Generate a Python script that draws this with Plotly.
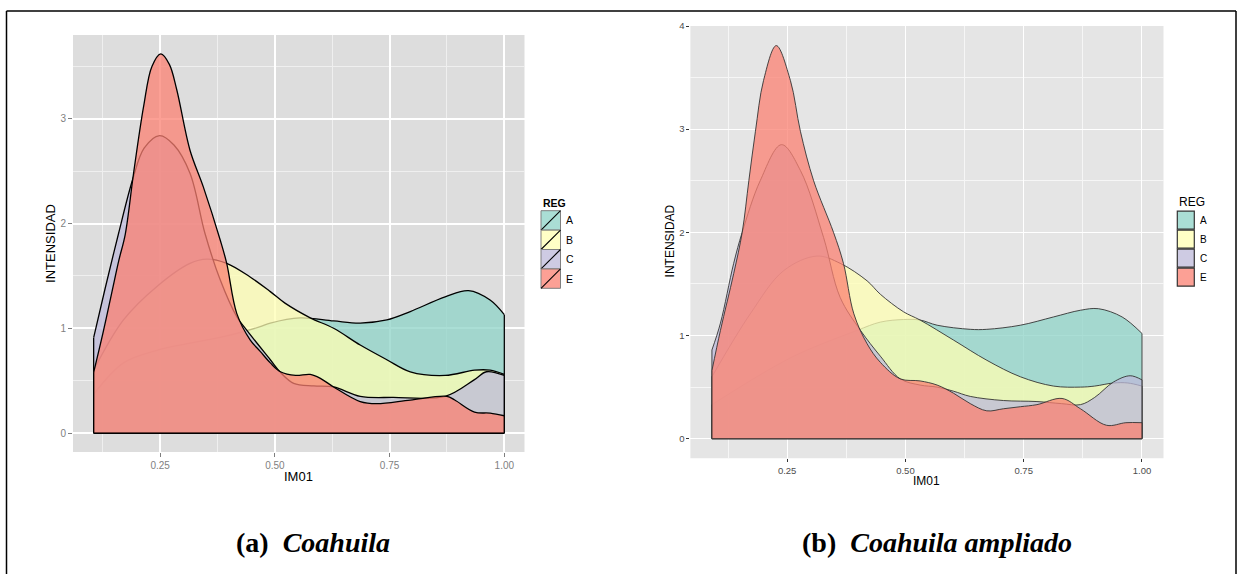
import plotly.graph_objects as go

W, H = 1238, 574

# ---------------- data ----------------
groups = ["A", "B", "C", "E"]
fill_rgb = {"A": (141, 211, 199), "B": (255, 255, 179), "C": (190, 186, 218), "E": (251, 128, 114)}

# panel (a) Coahuila
A_L_x = [0.105, 0.17, 0.243, 0.388, 0.468, 0.49, 0.555, 0.628, 0.686, 0.744, 0.795, 0.871, 0.922, 0.969, 1.0]
A_L_y = [0.37, 0.67, 0.79, 0.92, 1.015, 1.05, 1.10, 1.07, 1.05, 1.08, 1.16, 1.30, 1.36, 1.27, 1.13]
B_L_x = [0.105, 0.17, 0.243, 0.315, 0.352, 0.395, 0.446, 0.49, 0.522, 0.577, 0.628, 0.686, 0.744, 0.795, 0.871, 0.935, 0.969, 1.0]
B_L_y = [0.60, 1.08, 1.40, 1.62, 1.66, 1.62, 1.49, 1.35, 1.24, 1.10, 1.00, 0.84, 0.70, 0.585, 0.55, 0.60, 0.60, 0.56]
C_L_x = [0.105, 0.13, 0.159, 0.19, 0.215, 0.2485, 0.28, 0.315, 0.348, 0.381, 0.417, 0.439, 0.49, 0.512, 0.541, 0.585, 0.628, 0.686, 0.758, 0.871, 0.935, 0.961, 1.0]
C_L_y = [0.91, 1.38, 1.90, 2.42, 2.72, 2.84, 2.75, 2.48, 1.90, 1.46, 1.11, 0.98, 0.70, 0.58, 0.475, 0.45, 0.44, 0.35, 0.34, 0.35, 0.51, 0.585, 0.55]
E_L_x = [0.105, 0.125, 0.145, 0.16, 0.174, 0.192, 0.214, 0.232, 0.2515, 0.27, 0.286, 0.315, 0.344, 0.381, 0.395, 0.417, 0.446, 0.468, 0.49, 0.512, 0.545, 0.577, 0.60, 0.628, 0.686, 0.722, 0.795, 0.875, 0.892, 0.935, 0.969, 1.0]
E_L_y = [0.58, 0.95, 1.35, 1.65, 1.90, 2.48, 3.12, 3.50, 3.62, 3.52, 3.28, 2.70, 2.35, 1.84, 1.62, 1.14, 0.89, 0.78, 0.67, 0.585, 0.55, 0.56, 0.52, 0.44, 0.30, 0.28, 0.315, 0.35, 0.315, 0.20, 0.19, 0.165]

# panel (b) Coahuila ampliado
A_R_x = [0.091, 0.208, 0.278, 0.398, 0.447, 0.496, 0.531, 0.567, 0.637, 0.672, 0.743, 0.813, 0.870, 0.908, 0.958, 1.0]
A_R_y = [0.33, 0.66, 0.83, 1.05, 1.13, 1.155, 1.15, 1.10, 1.06, 1.06, 1.10, 1.18, 1.245, 1.26, 1.18, 1.02]
B_R_x = [0.091, 0.172, 0.243, 0.313, 0.362, 0.419, 0.447, 0.496, 0.531, 0.602, 0.672, 0.743, 0.813, 0.870, 0.90, 0.94, 0.97, 1.0]
B_R_y = [0.60, 1.21, 1.63, 1.77, 1.70, 1.53, 1.40, 1.23, 1.15, 0.955, 0.76, 0.60, 0.51, 0.50, 0.51, 0.54, 0.54, 0.51]
C_R_x = [0.091, 0.109, 0.137, 0.155, 0.193, 0.238, 0.278, 0.327, 0.362, 0.405, 0.447, 0.489, 0.531, 0.567, 0.602, 0.637, 0.707, 0.778, 0.83, 0.87, 0.90, 0.94, 0.975, 1.0]
C_R_y = [0.86, 1.12, 1.70, 2.00, 2.50, 2.85, 2.60, 1.95, 1.37, 1.05, 0.80, 0.58, 0.52, 0.50, 0.46, 0.41, 0.37, 0.36, 0.34, 0.33, 0.40, 0.55, 0.61, 0.57]
E_R_x = [0.091, 0.109, 0.137, 0.155, 0.169, 0.183, 0.200, 0.227, 0.257, 0.278, 0.306, 0.348, 0.369, 0.391, 0.419, 0.447, 0.489, 0.531, 0.567, 0.602, 0.637, 0.672, 0.707, 0.743, 0.778, 0.831, 0.870, 0.925, 0.966, 1.0]
E_R_y = [0.66, 1.05, 1.60, 2.00, 2.50, 2.98, 3.47, 3.81, 3.47, 2.98, 2.50, 2.00, 1.70, 1.21, 0.92, 0.74, 0.58, 0.56, 0.52, 0.44, 0.34, 0.27, 0.29, 0.31, 0.33, 0.39, 0.29, 0.13, 0.155, 0.155]

x_tickvals = [0.25, 0.50, 0.75, 1.00]
x_ticktext = ["0.25", "0.50", "0.75", "1.00"]
y_tickvals_L = [0, 1, 2, 3]
y_tickvals_R = [0, 1, 2, 3, 4]
x_title = "IM01"
y_title = "INTENSIDAD"
legend_title = "REG"
captions = [("(a)", "Coahuila"), ("(b)", "Coahuila ampliado")]

ALPHA = 0.75

panels = [
    {"data": {"A": (A_L_x, A_L_y), "B": (B_L_x, B_L_y), "C": (C_L_x, C_L_y), "E": (E_L_x, E_L_y)},
     "xa": "x", "ya": "y", "line": "#000000", "lw": 1.3},
    {"data": {"A": (A_R_x, A_R_y), "B": (B_R_x, B_R_y), "C": (C_R_x, C_R_y), "E": (E_R_x, E_R_y)},
     "xa": "x2", "ya": "y2", "line": "#333333", "lw": 0.9},
]


def P(px):
    return px / W


def Q(py):
    return 1 - py / H


fig = go.Figure()
for pan in panels:
    for g in groups:
        xs, ys = pan["data"][g]
        r, gg, b = fill_rgb[g]
        fc = f"rgba({r},{gg},{b},{ALPHA})"
        fig.add_trace(go.Scatter(
            x=xs, y=ys, mode="lines", fill="tozeroy", fillcolor=fc,
            line=dict(color=pan["line"], width=pan["lw"], shape="spline", smoothing=1.0),
            xaxis=pan["xa"], yaxis=pan["ya"], showlegend=False, hoverinfo="skip"))
        # straight polygon edges (vertical ends + baseline)
        fig.add_trace(go.Scatter(
            x=[xs[0], xs[0], None, xs[-1], xs[-1], None, xs[0], xs[-1]],
            y=[ys[0], 0, None, ys[-1], 0, None, 0, 0],
            mode="lines", line=dict(color=pan["line"], width=pan["lw"]),
            xaxis=pan["xa"], yaxis=pan["ya"], showlegend=False, hoverinfo="skip"))

# panel geometry (pixels)
L = dict(x0=73, x1=524.5, y0=35, y1=452)
R = dict(x0=690.4, x1=1163.5, y0=26, y1=458.3)

tickfont_L = dict(family="Liberation Sans, Arial, sans-serif", size=10, color="#7F7F7F")
tickfont_R = dict(family="Liberation Sans, Arial, sans-serif", size=9.5, color="#4D4D4D")

fig.update_layout(
    width=W, height=H, margin=dict(l=0, r=0, t=0, b=0, pad=0, autoexpand=False),
    paper_bgcolor="white", plot_bgcolor="rgba(0,0,0,0)",
    showlegend=False,
    xaxis=dict(domain=[P(L["x0"]), P(L["x1"])], anchor="y", range=[0.060, 1.044],
               tickmode="array", tickvals=x_tickvals, ticktext=x_ticktext,
               ticks="outside", ticklen=4, tickcolor="#7F7F7F", tickwidth=1,
               tickfont=tickfont_L, showgrid=True, gridcolor="white", gridwidth=1.6,
               zeroline=False, showline=False,
               minor=dict(tickmode="linear", tick0=0.125, dtick=0.25, showgrid=True,
                          gridcolor="#EFEFEF", gridwidth=0.8, ticks="")),
    yaxis=dict(domain=[Q(L["y1"]), Q(L["y0"])], anchor="x", range=[-0.181, 3.80],
               tickmode="array", tickvals=y_tickvals_L, ticktext=[str(v) for v in y_tickvals_L],
               ticks="outside", ticklen=4, tickcolor="#7F7F7F", tickwidth=1,
               tickfont=tickfont_L, showgrid=True, gridcolor="white", gridwidth=1.6,
               zeroline=False, showline=False,
               minor=dict(tickmode="linear", tick0=0.5, dtick=1, showgrid=True,
                          gridcolor="#EFEFEF", gridwidth=0.8, ticks="")),
    xaxis2=dict(domain=[P(R["x0"]), P(R["x1"])], anchor="y2", range=[0.0455, 1.0455],
                tickmode="array", tickvals=x_tickvals, ticktext=x_ticktext,
                ticks="outside", ticklen=3, tickcolor="#333333", tickwidth=1,
                tickfont=tickfont_R, showgrid=True, gridcolor="white", gridwidth=1.3,
                zeroline=False, showline=False,
                minor=dict(tickmode="linear", tick0=0.125, dtick=0.25, showgrid=True,
                           gridcolor="#F6F6F6", gridwidth=0.7, ticks="")),
    yaxis2=dict(domain=[Q(R["y1"]), Q(R["y0"])], anchor="x2", range=[-0.19, 4.0],
                tickmode="array", tickvals=y_tickvals_R, ticktext=[str(v) for v in y_tickvals_R],
                ticks="outside", ticklen=3, tickcolor="#333333", tickwidth=1,
                tickfont=tickfont_R, showgrid=True, gridcolor="white", gridwidth=1.3,
                zeroline=False, showline=False,
                minor=dict(tickmode="linear", tick0=0.5, dtick=1, showgrid=True,
                           gridcolor="#F6F6F6", gridwidth=0.7, ticks="")),
)

shapes = []
# panel backgrounds (below grid)
shapes.append(dict(type="rect", xref="x domain", yref="y domain", x0=0, x1=1, y0=0, y1=1,
                   fillcolor="#DDDDDD", line=dict(width=0), layer="below"))
shapes.append(dict(type="rect", xref="x2 domain", yref="y2 domain", x0=0, x1=1, y0=0, y1=1,
                   fillcolor="#E5E5E5", line=dict(width=0), layer="below"))
# page frame
frame = dict(color="black", width=1.5)
shapes.append(dict(type="line", xref="paper", yref="paper", x0=P(6.5), x1=P(1236), y0=Q(11), y1=Q(11), line=frame))
shapes.append(dict(type="line", xref="paper", yref="paper", x0=P(6.5), x1=P(6.5), y0=Q(11), y1=Q(574), line=frame))
shapes.append(dict(type="line", xref="paper", yref="paper", x0=P(1236), x1=P(1236), y0=Q(11), y1=Q(574), line=frame))

annotations = []
font_sans = "Liberation Sans, Arial, sans-serif"

# axis titles
annotations += [
    dict(text=x_title, x=P(298.4), y=Q(476.7), xref="paper", yref="paper", showarrow=False,
         xanchor="center", yanchor="middle", font=dict(family=font_sans, size=13, color="black")),
    dict(text=y_title, x=P(50.6), y=Q(243.3), xref="paper", yref="paper", showarrow=False, textangle=-90,
         xanchor="center", yanchor="middle", font=dict(family=font_sans, size=13, color="black")),
    dict(text=x_title, x=P(926.7), y=Q(480.7), xref="paper", yref="paper", showarrow=False,
         xanchor="center", yanchor="middle", font=dict(family=font_sans, size=12, color="black")),
    dict(text=y_title, x=P(670.2), y=Q(241.2), xref="paper", yref="paper", showarrow=False, textangle=-90,
         xanchor="center", yanchor="middle", font=dict(family=font_sans, size=12, color="black")),
]

# legends
legL = dict(x0=541, x1=560.5, top=210.7, h=19.4, tx=563.5, ttl_y=203.3)
legR = dict(x0=1177.3, x1=1194.3, top=210.7, h=19.0, tx=1198, ttl_y=201.7)

annotations.append(dict(text="<b>" + legend_title + "</b>", x=P(540.5), y=Q(legL["ttl_y"]), xref="paper", yref="paper",
                        showarrow=False, xanchor="left", yanchor="middle",
                        font=dict(family=font_sans, size=10.5, color="black")))
annotations.append(dict(text=legend_title, x=P(1176.5), y=Q(legR["ttl_y"]), xref="paper", yref="paper",
                        showarrow=False, xanchor="left", yanchor="middle",
                        font=dict(family=font_sans, size=12, color="black")))

for i, g in enumerate(groups):
    r, gg, b = fill_rgb[g]
    fc = f"rgba({r},{gg},{b},0.75)"
    # left key (with diagonal)
    t = legL["top"] + i * legL["h"]
    bt = t + legL["h"]
    shapes.append(dict(type="rect", xref="paper", yref="paper", x0=P(legL["x0"]), x1=P(legL["x1"]),
                       y0=Q(bt), y1=Q(t), fillcolor=fc, line=dict(color="#7F7F7F", width=1)))
    shapes.append(dict(type="line", xref="paper", yref="paper", x0=P(legL["x0"]), x1=P(legL["x1"]),
                       y0=Q(bt), y1=Q(t), line=dict(color="black", width=1.1)))
    annotations.append(dict(text=g, x=P(legL["tx"]), y=Q((t + bt) / 2), xref="paper", yref="paper",
                            showarrow=False, xanchor="left", yanchor="middle",
                            font=dict(family=font_sans, size=10.5, color="black")))
    # right key
    t = legR["top"] + i * legR["h"]
    bt = t + legR["h"]
    shapes.append(dict(type="rect", xref="paper", yref="paper", x0=P(legR["x0"]), x1=P(legR["x1"]),
                       y0=Q(bt - 0.5), y1=Q(t + 0.5), fillcolor=fc, line=dict(color="#333333", width=1.2)))
    annotations.append(dict(text=g, x=P(legR["tx"]), y=Q((t + bt) / 2), xref="paper", yref="paper",
                            showarrow=False, xanchor="left", yanchor="middle",
                            font=dict(family=font_sans, size=10, color="black")))

# captions
cap_font = dict(family="Liberation Serif, Times New Roman, serif", size=28, color="black")
for (lab, name), cx in zip(captions, [313, 937]):
    annotations.append(dict(text=f"<b>{lab}</b>\u00a0\u00a0<b><i>{name}</i></b>", x=P(cx), y=Q(542),
                            xref="paper", yref="paper", showarrow=False, xanchor="center", yanchor="middle",
                            font=cap_font))

fig.update_layout(shapes=shapes, annotations=annotations)
fig.write_html("out.html")
